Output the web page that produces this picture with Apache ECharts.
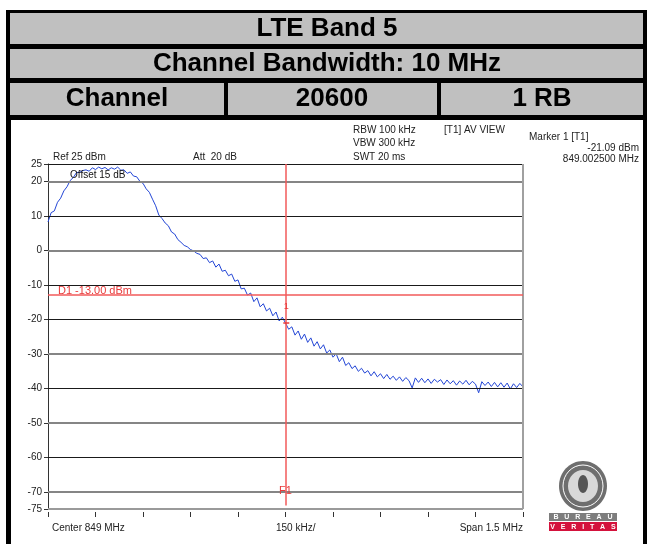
<!DOCTYPE html>
<html><head><meta charset="utf-8">
<script src="https://cdn.jsdelivr.net/npm/echarts@6/dist/echarts.min.js"></script>
<style>html,body{margin:0;padding:0;background:#fff}#c{width:652px;height:544px}</style>
</head><body><div id="c"></div>
<script>
// ---- data ----
const titleRows = ['LTE Band 5', 'Channel Bandwidth: 10 MHz'];
const channelCells = ['Channel', '20600', '1 RB'];
const yTickValues = [25, 20, 10, 0, -10, -20, -30, -40, -50, -60, -70, -75];
const gridBlack = [10, -10, -20, -40, -60];
const gridGray = [20, 0, -30, -50, -70];
const displayLineDbm = -13;
const displayLineLabel = 'D1 -13.00 dBm';
const f1OffsetKHz = 0;
const markerOffsetKHz = 2.5;
const markerDbm = -21.09;
const spanKHz = [-750, 750];
const divKHz = 150;
const sweepStartKHz = -750;
const sweepStepKHz = 10;
const traceDbm = [
  8.2, 10.9, 11.4, 13.9, 15.1, 17.2, 18.4, 20.2, 21.1, 22.5,
  22.6, 23.1, 23.3, 22.9, 23.9, 23.4, 24.1, 23.6, 24.0, 23.3,
  23.9, 23.5, 24.1, 23.2, 23.3, 22.3, 22.7, 21.5, 21.3, 20.0,
  19.4, 17.8, 16.8, 14.8, 12.9, 10.2, 9.2, 7.9, 7.1, 5.3,
  4.7, 3.1, 2.3, 1.4, 1.0, 0.2, -0.2, -0.9, -1.2, -2.4,
  -2.2, -3.6, -3.1, -4.9, -4.0, -6.1, -5.8, -7.4, -6.9, -9.0,
  -8.6, -11.2, -11.0, -13.0, -12.4, -14.9, -13.8, -16.4, -15.5, -17.6,
  -16.8, -19.0, -17.9, -20.5, -19.4, -21.1, -22.9, -22.2, -24.6, -23.4,
  -25.8, -24.3, -26.7, -25.4, -27.8, -26.5, -28.6, -27.4, -29.8, -28.9,
  -31.0, -30.0, -32.3, -31.0, -33.4, -32.6, -34.3, -33.5, -35.1, -34.2,
  -35.6, -34.9, -36.4, -35.2, -36.7, -35.8, -37.2, -36.0, -37.4, -36.5,
  -37.7, -36.7, -38.0, -36.9, -37.8, -39.9, -37.0, -38.3, -37.1, -38.4,
  -37.3, -38.6, -37.4, -38.2, -37.5, -38.9, -37.6, -38.7, -37.8, -39.1,
  -37.9, -38.8, -37.7, -39.0, -38.0, -38.8, -41.3, -38.1, -39.2, -38.2,
  -39.5, -38.3, -39.6, -38.4, -39.7, -38.5, -40.2, -38.7, -39.8, -38.6,
  -39.6
];
const infoLeft = ['Ref 25 dBm', 'Att  20 dB', 'Offset 15 dB'];
const infoSettings = ['RBW 100 kHz', 'VBW 300 kHz', 'SWT 20 ms'];
const traceMode = '[T1] AV VIEW';
const markerInfo = ['Marker 1 [T1]', '-21.09 dBm', '849.002500 MHz'];
const bottomLabels = ['Center 849 MHz', '150 kHz/', 'Span 1.5 MHz'];

// ---- build ----
const traceData = traceDbm.map((v, i) => [sweepStartKHz + i * sweepStepKHz, v]);
const FONT = '"Liberation Sans", Arial, sans-serif';
const RED = '#f25a5a';

function txt(text, x, y, opt) {
  opt = opt || {};
  return {
    type: 'text', z: 100, silent: true,
    style: {
      text: text, x: x, y: y,
      font: (opt.weight || 'normal') + ' ' + (opt.size || 10) + 'px ' + FONT,
      fill: opt.fill || '#222',
      align: opt.align || 'left',
      verticalAlign: 'middle'
    }
  };
}
function rect(x, y, w, h, fill, z) {
  return { type: 'rect', z: z || 1, silent: true, shape: { x: x, y: y, width: w, height: h }, style: { fill: fill } };
}

const HG = '#c0c0c0';
const graphic = [
  rect(6, 10, 641, 110, '#000', 1),
  rect(10, 13, 633, 31, HG, 2),
  rect(10, 49, 633, 29, HG, 2),
  rect(10, 83, 214, 32, HG, 2),
  rect(228, 83, 209, 32, HG, 2),
  rect(441, 83, 202, 32, HG, 2),
  rect(6, 118, 5, 426, '#000', 1),
  rect(643, 118, 4, 426, '#000', 1),
  txt(titleRows[0], 327, 29, { size: 26, weight: 'bold', align: 'center', fill: '#000' }),
  txt(titleRows[1], 327, 64, { size: 26, weight: 'bold', align: 'center', fill: '#000' }),
  txt(channelCells[0], 117, 99, { size: 26, weight: 'bold', align: 'center', fill: '#000' }),
  txt(channelCells[1], 332, 99, { size: 26, weight: 'bold', align: 'center', fill: '#000' }),
  txt(channelCells[2], 542, 99, { size: 26, weight: 'bold', align: 'center', fill: '#000' }),
  txt(infoLeft[0], 53, 157),
  txt(infoLeft[1], 193, 157),
  txt(infoLeft[2], 70, 175, { fill: '#111' }),
  txt(infoSettings[0], 353, 130),
  txt(infoSettings[1], 353, 143),
  txt(infoSettings[2], 353, 157),
  txt(traceMode, 444, 130),
  txt(markerInfo[0], 529, 137),
  txt(markerInfo[1], 639, 148, { align: 'right' }),
  txt(markerInfo[2], 639, 159, { align: 'right' }),
  txt(bottomLabels[0], 52, 528),
  txt(bottomLabels[1], 276, 528),
  txt(bottomLabels[2], 523, 528, { align: 'right' }),
  txt(displayLineLabel, 58, 291, { size: 11, fill: '#e83a3a' }),
  // logo
  { type: 'ellipse', z: 5, silent: true, shape: { cx: 583, cy: 486, rx: 24, ry: 25 }, style: { fill: '#6e6e6e' } },
  { type: 'ellipse', z: 6, silent: true, shape: { cx: 583, cy: 486, rx: 20, ry: 21 }, style: { fill: 'none', stroke: '#fff', lineWidth: 1 } },
  { type: 'ellipse', z: 6, silent: true, shape: { cx: 583, cy: 486, rx: 15, ry: 16 }, style: { fill: '#d8d8d8' } },
  { type: 'ellipse', z: 7, silent: true, shape: { cx: 583, cy: 484, rx: 5, ry: 9 }, style: { fill: '#555' } },
  rect(549, 513, 68, 8, '#7d7d7d', 5),
  rect(549, 522, 68, 9, '#d4123c', 5),
  txt('B   U   R   E   A   U', 583, 517.5, { size: 7, weight: 'bold', align: 'center', fill: '#fff' }),
  txt('V   E   R   I   T   A   S', 583, 527, { size: 7, weight: 'bold', align: 'center', fill: '#fff' })
];

const gridLines = []
  .concat(gridBlack.map(v => ({ yAxis: v, lineStyle: { color: '#1a1a1a', width: 1, type: 'solid' } })))
  .concat(gridGray.map(v => ({ yAxis: v, lineStyle: { color: '#858585', width: 2, type: 'solid' } })))
  .concat([
    { yAxis: 25, lineStyle: { color: '#1a1a1a', width: 1, type: 'solid' } },
    { yAxis: -75, lineStyle: { color: '#9a9a9a', width: 2, type: 'solid' } },
    { xAxis: spanKHz[1], lineStyle: { color: '#a0a0a0', width: 2, type: 'solid' } }
  ]);

const option = {
  animation: false,
  backgroundColor: '#fff',
  graphic: graphic,
  grid: { left: 48, right: 129, top: 164, bottom: 35, containLabel: false },
  xAxis: {
    type: 'value', min: spanKHz[0], max: spanKHz[1], interval: divKHz,
    position: 'bottom',
    offset: 3,
    axisLine: { show: false, onZero: false },
    axisTick: { show: true, length: 5, lineStyle: { color: '#333', width: 1 } },
    axisLabel: { show: false },
    splitLine: { show: false }
  },
  yAxis: {
    type: 'value', min: -75, max: 25,
    axisLine: { show: true, onZero: false, lineStyle: { color: '#333', width: 1 } },
    axisTick: { show: true, length: 4, customValues: yTickValues, lineStyle: { color: '#333' } },
    axisLabel: { show: true, customValues: yTickValues, color: '#222', fontSize: 10, fontFamily: FONT, margin: 6 },
    splitLine: { show: false }
  },
  series: [
    {
      type: 'line', data: [], z: 1, silent: true,
      markLine: { silent: true, symbol: ['none', 'none'], label: { show: false }, animation: false, data: gridLines }
    },
    {
      type: 'line', data: traceData, z: 3, showSymbol: false, silent: true,
      lineStyle: { color: '#2346d6', width: 1 },
      itemStyle: { color: '#2346d6' }
    },
    {
      type: 'line', data: [], z: 4, silent: true,
      markLine: {
        silent: true, symbol: ['none', 'none'], label: { show: false }, animation: false,
        lineStyle: { color: RED, width: 1.5, type: 'solid' },
        data: [
          { yAxis: displayLineDbm },
          [{ coord: [f1OffsetKHz, 25] }, { coord: [f1OffsetKHz, -74] }]
        ]
      },
      markPoint: {
        silent: true, animation: false,
        data: [
          { coord: [f1OffsetKHz, -69.8], symbol: 'rect', symbolSize: 1, itemStyle: { color: 'rgba(0,0,0,0)' },
            label: { show: true, position: 'inside', formatter: 'F1', color: '#e83a3a', fontSize: 11, fontFamily: FONT } },
          { coord: [markerOffsetKHz, -16.3], symbol: 'rect', symbolSize: 1, itemStyle: { color: 'rgba(0,0,0,0)' },
            label: { show: true, position: 'inside', formatter: '1', color: '#e83a3a', fontSize: 9, fontFamily: FONT } },
          { coord: [markerOffsetKHz, markerDbm], symbol: 'rect', symbolSize: [6, 1.5], itemStyle: { color: '#e83a3a' },
            label: { show: false } }
        ]
      }
    }
  ]
};
const chart = echarts.init(document.getElementById('c'), null, { renderer: 'canvas' });
chart.setOption(option);
</script></body></html>
